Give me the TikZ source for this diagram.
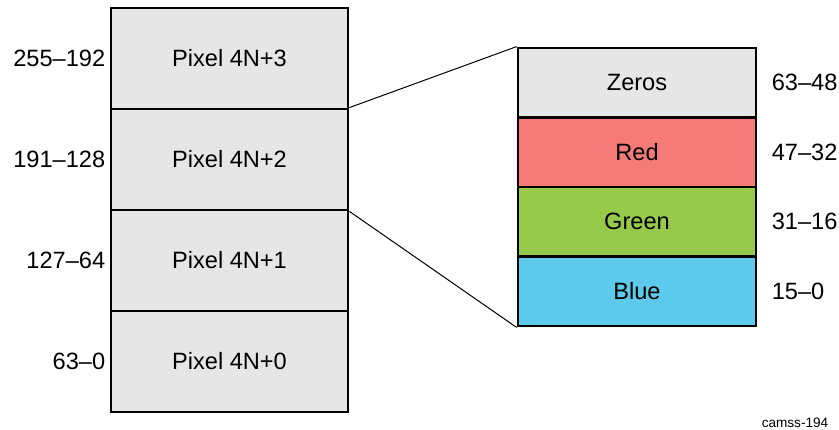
\documentclass[tikz,border=0pt]{standalone}
\usepackage{fontspec}
\setmainfont{Liberation Sans}
\usetikzlibrary{positioning}
\definecolor{pixGray}{HTML}{E6E6E6}
\definecolor{chRed}{HTML}{F47B77}
\definecolor{chGreen}{HTML}{97C94B}
\definecolor{chBlue}{HTML}{5ECAEB}

\begin{document}
\begin{tikzpicture}[x=0.5pt, y=-0.5pt,
  pixbox/.style={draw, line width=1.4pt, fill=pixGray, inner sep=0pt,
    minimum width=118.5pt, minimum height=50.5pt,
    font=\fontsize{11.8}{14}\selectfont},
  chbox/.style={draw, line width=1.4pt, inner sep=0pt,
    minimum width=119pt, minimum height=34.75pt,
    font=\fontsize{11.8}{14}\selectfont},
  bits/.style={inner sep=0pt, font=\fontsize{11.8}{14}\selectfont}]
  \useasboundingbox (0,0) rectangle (839,429);
  % 256-bit word, four pixels
  \node[pixbox] (pix3) at (229.5,58.5) {Pixel 4N+3};
  \node[pixbox] (pix2) at (229.5,159.5) {Pixel 4N+2};
  \node[pixbox] (pix1) at (229.5,260.5) {Pixel 4N+1};
  \node[pixbox] (pix0) at (229.5,361.5) {Pixel 4N+0};
  \node[bits, left=2pt of pix3] (b3) {255--192};
  \node[bits, left=2pt of pix2] (b2) {191--128};
  \node[bits, left=2pt of pix1] (b1) {127--64};
  \node[bits, left=2pt of pix0] (b0) {63--0};
  % one 64-bit pixel
  \node[chbox, fill=pixGray] (zeros) at (637,82.75) {Zeros};
  \node[chbox, fill=chRed] (red) at (637,152.25) {Red};
  \node[chbox, fill=chGreen] (green) at (637,221.75) {Green};
  \node[chbox, fill=chBlue] (blue) at (637,291.25) {Blue};
  \node[bits, right=7pt of zeros] (c3) {63--48};
  \node[bits, right=7pt of red] (c2) {47--32};
  \node[bits, right=7pt of green] (c1) {31--16};
  \node[bits, right=7pt of blue] (c0) {15--0};
  % zoom lines
  \draw[line width=0.5pt] (pix2.north east) -- (zeros.north west);
  \draw[line width=0.5pt] (pix2.south east) -- (blue.south west);
  \node[font=\fontsize{6.8}{8}\selectfont] (tag) at (795,423) {camss-194};
\end{tikzpicture}
\end{document}
